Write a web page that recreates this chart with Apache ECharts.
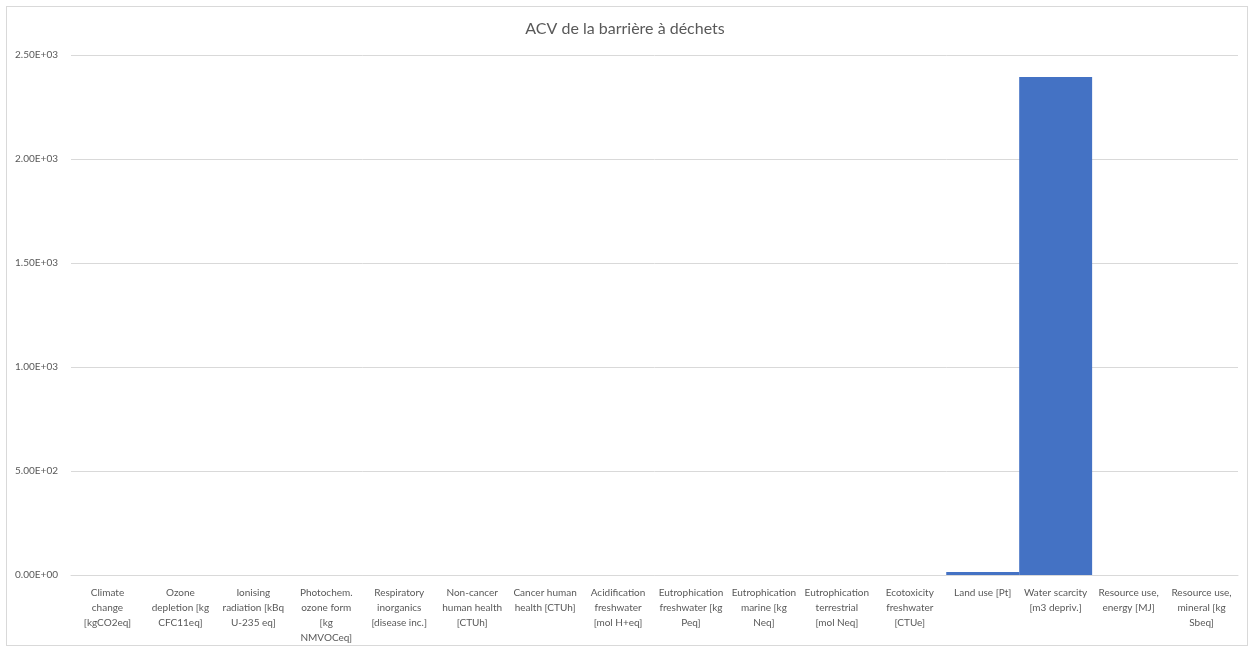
<!DOCTYPE html>
<html><head><meta charset="utf-8">
<script src="https://cdn.jsdelivr.net/npm/echarts@6/dist/echarts.min.js"></script>
<style>html,body{margin:0;padding:0;background:#fff}
#frame{position:absolute;left:6px;top:6px;width:1242px;height:640px;border:1px solid #d9d9d9;box-sizing:border-box}
#c{position:absolute;left:0;top:0;width:1250px;height:648px}</style>
</head><body><div id="frame"></div><div id="c"></div>
<script>
const titleText = "ACV de la barrière à déchets";
const categories = [
 "Climate\nchange\n[kgCO2eq]",
 "Ozone\ndepletion [kg\nCFC11eq]",
 "Ionising\nradiation [kBq\nU-235 eq]",
 "Photochem.\nozone form\n[kg\nNMVOCeq]",
 "Respiratory\ninorganics\n[disease inc.]",
 "Non-cancer\nhuman health\n[CTUh]",
 "Cancer human\nhealth [CTUh]",
 "Acidification\nfreshwater\n[mol H+eq]",
 "Eutrophication\nfreshwater [kg\nPeq]",
 "Eutrophication\nmarine [kg\nNeq]",
 "Eutrophication\nterrestrial\n[mol Neq]",
 "Ecotoxicity\nfreshwater\n[CTUe]",
 "Land use [Pt]",
 "Water scarcity\n[m3 depriv.]",
 "Resource use,\nenergy [MJ]",
 "Resource use,\nmineral [kg\nSbeq]"
];
const values = [0, 0, 0, 0, 0, 0, 0, 0, 0, 0, 0, 0, 14, 2394, 0, 0];
const yMin = 0, yMax = 2500, yStep = 500;

function fmt(v){
  if (v === 0) return "0.00E+00";
  const e = Math.floor(Math.log10(Math.abs(v)));
  const m = v / Math.pow(10, e);
  const es = (e < 0 ? "-" : "+") + String(Math.abs(e)).padStart(2, "0");
  return m.toFixed(2) + "E" + es;
}

const chart = echarts.init(document.getElementById('c'));
chart.setOption({
  animation: false,
  textStyle: {fontFamily: "Lato, 'Open Sans', sans-serif"},
  title: {text: titleText, left: 'center', top: 16,
    textStyle: {fontSize: 16, fontWeight: 'normal', color: '#595959', fontFamily: "Lato, 'Open Sans', sans-serif"}},
  grid: {left: 71, right: 12, top: 55, bottom: 73},
  xAxis: {
    type: 'category', data: categories,
    axisLine: {lineStyle: {color: '#d9d9d9'}},
    axisTick: {show: false},
    axisLabel: {interval: 0, fontSize: 10, color: '#595959', lineHeight: 15, margin: 10}
  },
  yAxis: {
    type: 'value', min: yMin, max: yMax, interval: yStep,
    axisLine: {show: false}, axisTick: {show: false},
    splitLine: {lineStyle: {color: '#d9d9d9'}},
    axisLabel: {fontSize: 10, color: '#595959', margin: 13, formatter: fmt}
  },
  series: [{type: 'bar', data: values, barCategoryGap: '0%', itemStyle: {color: '#4472C4'}}]
});
</script></body></html>
